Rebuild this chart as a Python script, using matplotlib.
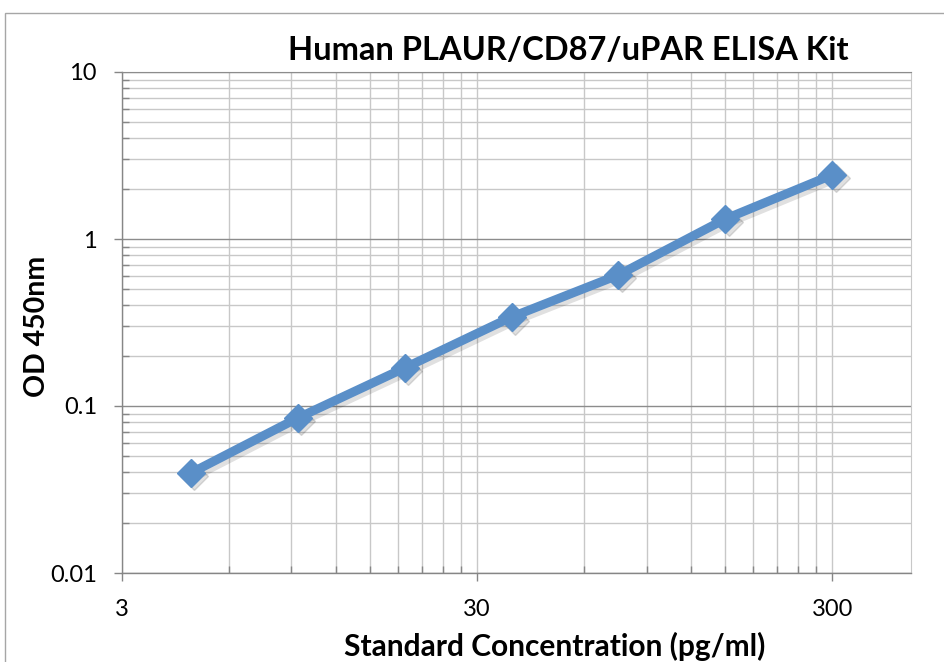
import matplotlib
matplotlib.use("Agg")
import matplotlib.pyplot as plt
from matplotlib.patches import Rectangle
from matplotlib.ticker import FixedLocator, NullFormatter
from matplotlib.transforms import offset_copy

# standard curve (pg/ml vs OD 450nm)
conc = [4.69, 9.38, 18.75, 37.5, 75, 150, 300]
od = [0.0397, 0.0848, 0.169, 0.341, 0.609, 1.318, 2.42]

x_major = [3, 30, 300]
x_labels = ["3", "30", "300"]
y_major = [0.01, 0.1, 1, 10]
y_labels = ["0.01", "0.1", "1", "10"]

W, H = 944, 662
plt.rcParams['font.family'] = ['Lato', 'DejaVu Sans']

fig = plt.figure(figsize=(W / 100, H / 100), dpi=100)
ax = fig.add_axes([122 / W, 1 - 573 / H, (911 - 122) / W, (573 - 72) / H])

# chart area border (cropped on right/bottom)
fig.patches.append(Rectangle((5 / W, -0.1), 1.2, 1 - 13 / H + 0.1,
                             transform=fig.transFigure, fill=False,
                             edgecolor='#a6a6a6', linewidth=1.0))

ax.set_xscale('log')
ax.set_yscale('log')
ax.set_xlim(3, 500)
ax.set_ylim(0.01, 10)

x_minor = [3 * k * 10 ** d for d in (0, 1) for k in range(2, 10)]
ax.xaxis.set_major_locator(FixedLocator(x_major))
ax.xaxis.set_minor_locator(FixedLocator(x_minor))
ax.xaxis.set_minor_formatter(NullFormatter())
ax.set_xticklabels(x_labels)
ax.yaxis.set_major_locator(FixedLocator(y_major))
y_minor = [k * 10.0 ** d for d in (-2, -1, 0) for k in range(2, 10)]
ax.yaxis.set_minor_locator(FixedLocator(y_minor))
ax.yaxis.set_minor_formatter(NullFormatter())
ax.set_yticklabels(y_labels)

ax.grid(True, axis='x', which='both', color='#c8c8c8', linewidth=1.0)
ax.grid(True, axis='y', which='minor', color='#c8c8c8', linewidth=1.0)
ax.grid(True, axis='y', which='major', color='#8c8c8c', linewidth=1.0)
ax.set_axisbelow(True)

for s in ['left', 'bottom']:
    ax.spines[s].set_color('#868686')
    ax.spines[s].set_linewidth(1.0)
ax.spines['top'].set_color('#8c8c8c')
ax.spines['right'].set_color('#c8c8c8')

ax.tick_params(which='major', direction='out', length=6, width=1,
               color='#868686', labelsize=17)
ax.tick_params(which='minor', direction='in', length=5, width=1,
               color='#868686')
ax.tick_params(axis='x', which='major', pad=13)
ax.tick_params(axis='y', which='major', pad=12)

# soft drop shadow, then the series
shadow = offset_copy(ax.transData, fig=fig, x=2.5, y=-2.5, units='points')
ax.plot(conc, od, color='black', alpha=0.12, linewidth=6.5, marker='D',
        markersize=14.5, transform=shadow)
ax.plot(conc, od, color='#5a8fc8', linewidth=6.5, marker='D', markersize=14.5)

fig.text(568 / W, 1 - 50 / H, "Human PLAUR/CD87/uPAR ELISA Kit",
         ha='center', va='center', fontsize=23.5, fontweight='bold')
fig.text(555 / W, 1 - 646 / H, "Standard Concentration (pg/ml)",
         ha='center', va='center', fontsize=21.5, fontweight='bold')
fig.text(37 / W, 1 - 326 / H, "OD 450nm", rotation=90,
         ha='center', va='center', fontsize=20.5, fontweight='bold')

fig.savefig("out.png", dpi=100)
